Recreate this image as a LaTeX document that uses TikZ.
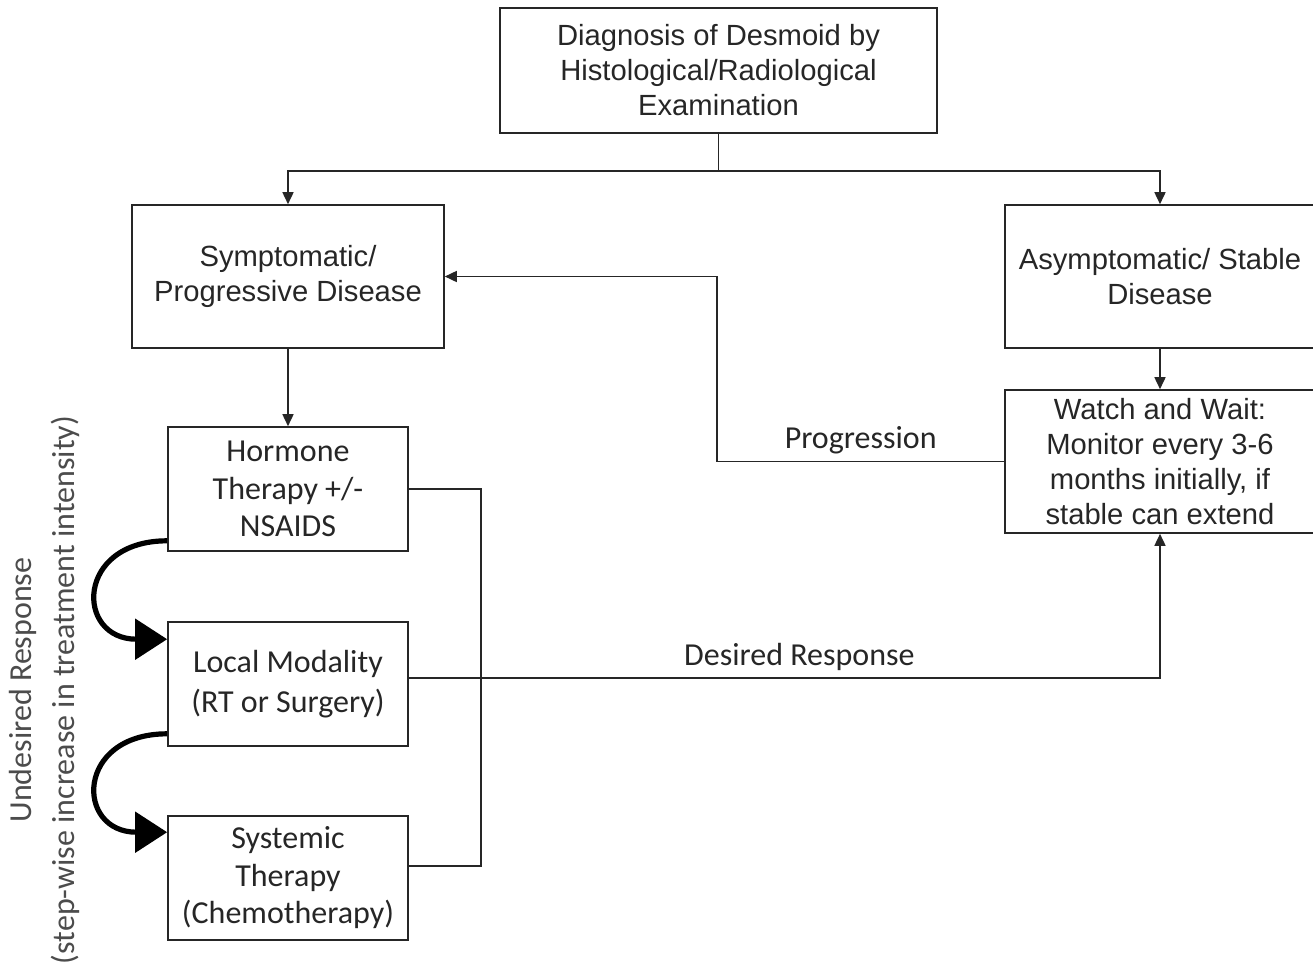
\documentclass[tikz,border=0pt]{standalone}
\usepackage{fontspec}
\setmainfont{Liberation Sans}
\newfontfamily\calib{Carlito}
\usetikzlibrary{arrows.meta}

\begin{document}
\begin{tikzpicture}[x=0.5pt, y=-0.5pt,
	box/.style={draw=black!85, line width=0.8pt, align=center, inner sep=0pt, text=black!85, font=\fontsize{14.6}{17.5}\selectfont},
	lbox/.style={box, minimum width=120pt, minimum height=62pt, font=\calib\fontsize{16}{18.75}\selectfont},
	conn/.style={draw=black!85, line width=0.8pt},
	tip/.style={-{Triangle[length=6pt,width=5.5pt]}},
	lbl/.style={font=\calib\fontsize{16}{18}\selectfont, text=black!85},
	stepup/.style={line width=2.6pt, -{Triangle[length=16pt,width=20pt]}, out=180, in=180, looseness=2.4}]
	\useasboundingbox (0,0) rectangle (1313,970);
	% boxes
	\node[box, minimum width=218.5pt, minimum height=62.5pt] (diag) at (718.5,70.5) {Diagnosis of Desmoid by\\Histological/Radiological\\Examination};
	\node[box, minimum width=156pt, minimum height=71.5pt] (sympt) at (288,276.5) {Symptomatic/\\Progressive Disease};
	\node[box, minimum width=155pt, minimum height=71.5pt] (asym) at (1160,276.5) {Asymptomatic/ Stable\\Disease};
	\node[box, minimum width=155pt, minimum height=71.5pt] (watch) at (1160,461.5) {Watch and Wait:\\Monitor every 3-6\\months initially, if\\stable can extend};
	\node[lbox] (hormone) at (288,489) {Hormone\\Therapy +/-\\NSAIDS};
	\node[lbox] (local) at (288,684) {Local Modality\\[1pt](RT or Surgery)};
	\node[lbox] (systemic) at (288,878) {Systemic\\Therapy\\(Chemotherapy)};
	\node[rotate=90, align=center, text=black!70, font=\calib\fontsize{16}{21.5}\selectfont] (undesired) at (44,690) {Undesired Response\\(step-wise increase in treatment intensity)};
	% connectors
	\draw[conn] (diag.south) -- ++(0,37) coordinate (split);
	\draw[conn, tip] (split) -| (sympt.north);
	\draw[conn, tip] (split) -| (asym.north);
	\draw[conn, tip] (sympt.south) -- (hormone.north);
	\draw[conn, tip] (asym.south) -- (watch.north);
	\draw[conn, tip] (watch.west) -- node[above, lbl] {Progression} ++(-287,0) |- (sympt.east);
	\draw[conn] (hormone.east) -- ++(72,0) |- ([yshift=6pt]systemic.east);
	\draw[conn, tip] ([yshift=3pt]local.east) -| node[above, pos=0.26, lbl] {Desired Response} (watch.south);
	\draw[stepup] ([yshift=5.5pt]hormone.south west) to ([yshift=-9pt]local.north west);
	\draw[stepup] ([yshift=6.5pt]local.south west) to ([yshift=-8.5pt]systemic.north west);
\end{tikzpicture}
\end{document}
